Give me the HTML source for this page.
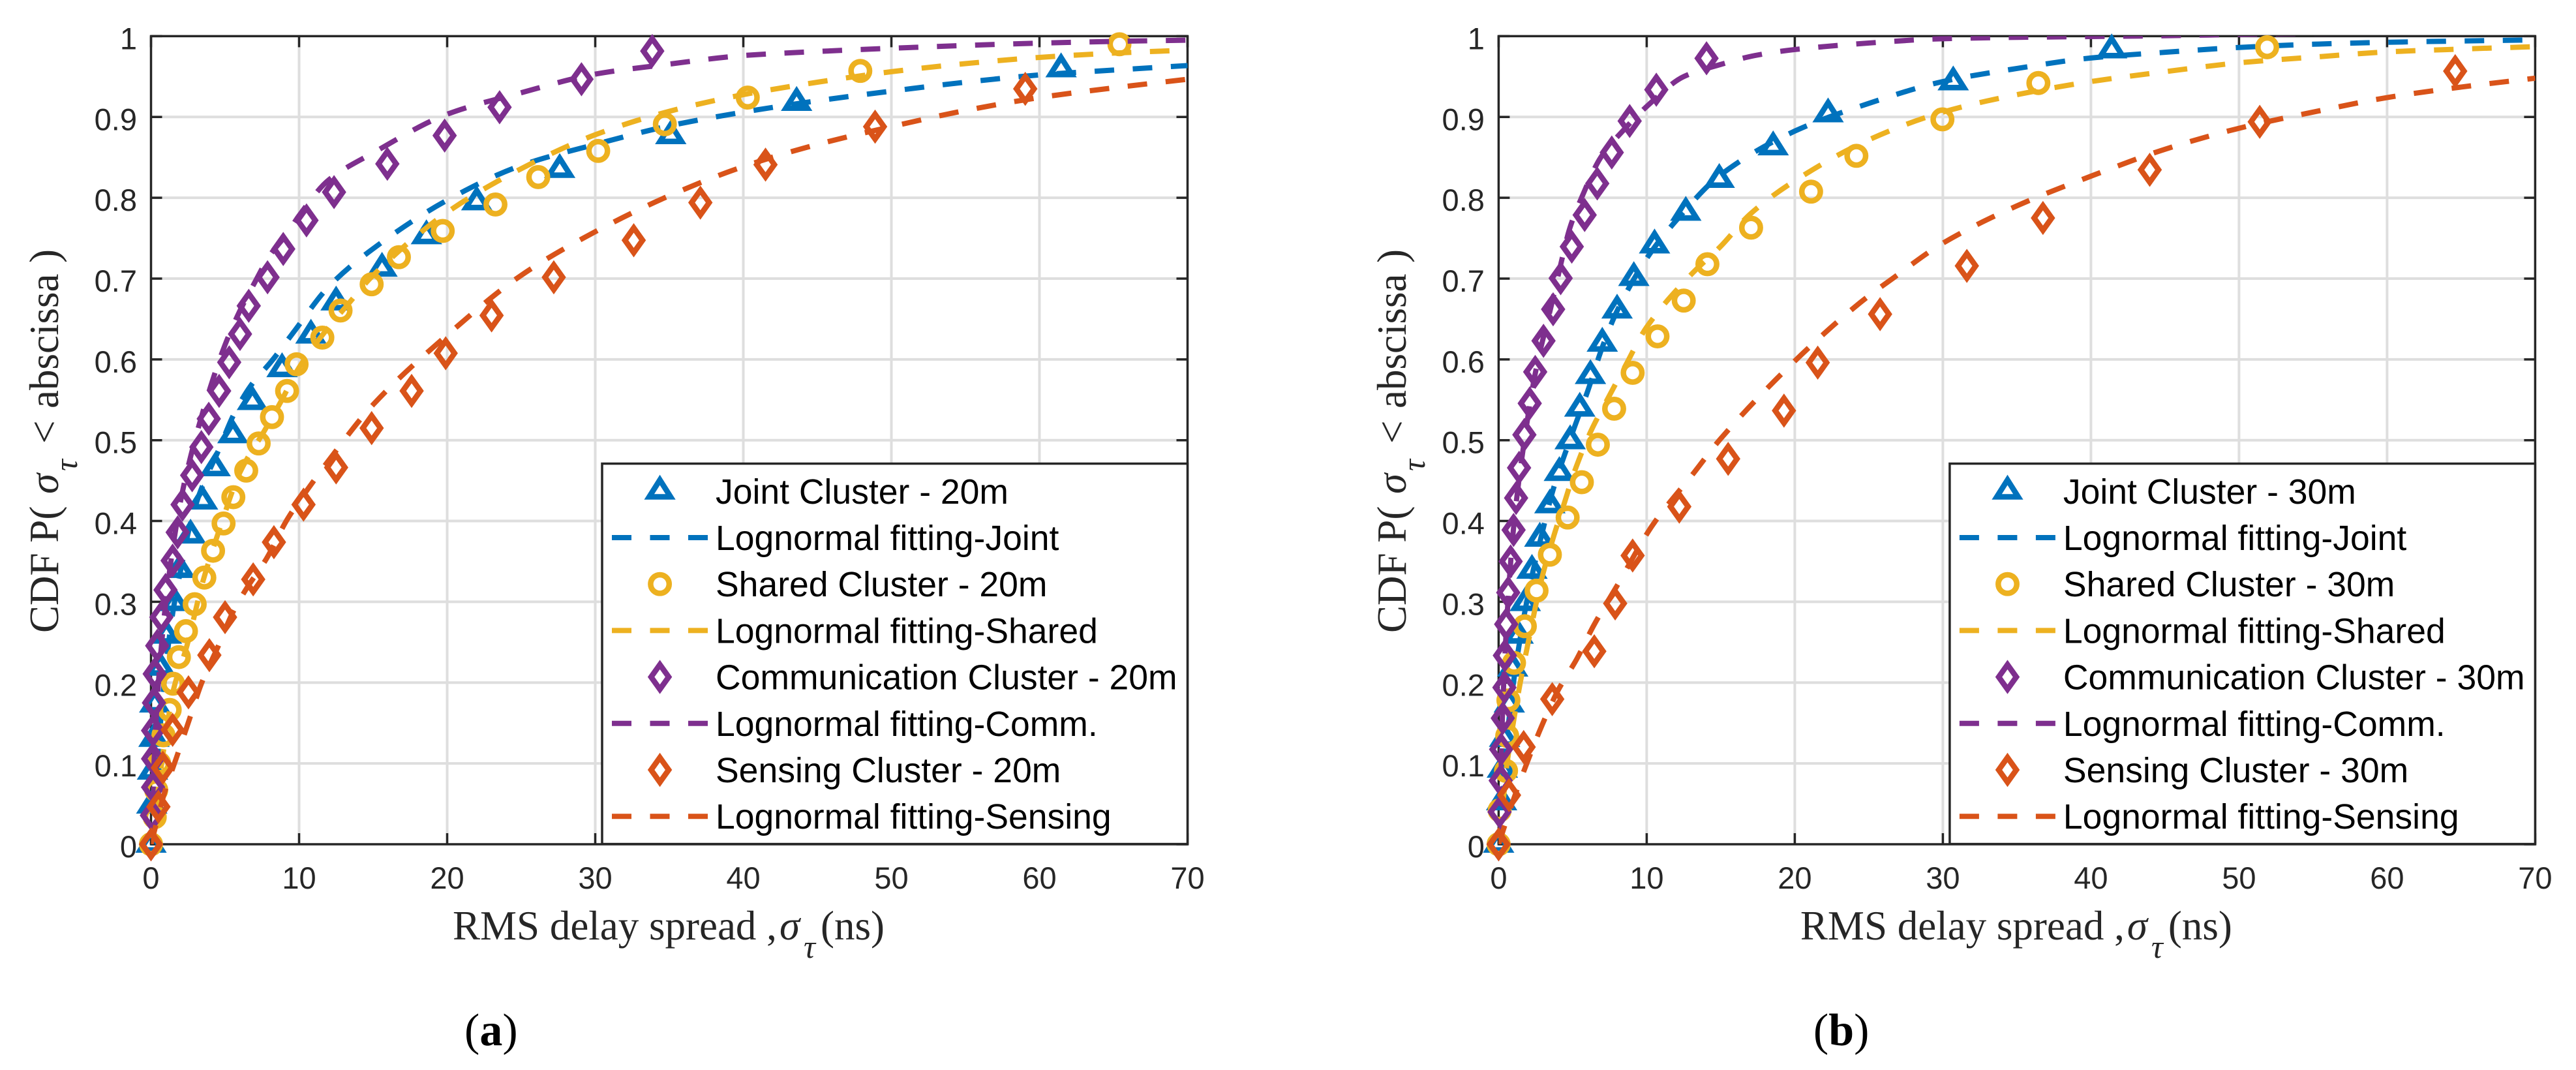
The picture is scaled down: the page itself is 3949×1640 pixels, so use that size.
<!DOCTYPE html>
<html lang="en">
<head>
<meta charset="utf-8">
<title>CDF of RMS delay spread by cluster type</title>
<style>
html,body{margin:0;padding:0;background:#fff;width:3949px;height:1640px;overflow:hidden}
svg{display:block}
.tick{font-family:"Liberation Sans",sans-serif;font-size:47px;fill:#262626}
.leg{font-family:"Liberation Sans",sans-serif;font-size:53.5px;fill:#000}
.lab{font-family:"Liberation Serif",serif;font-size:63px;fill:#262626}
.ital{font-style:italic}
.cap{font-family:"Liberation Serif",serif;font-size:70px;fill:#000}
.mk{fill:none;stroke-width:8.5;stroke-miterlimit:10}
.ln{fill:none;stroke-width:8;stroke-dasharray:30 28.5}
</style>
</head>
<body>
<svg id="figure" xmlns="http://www.w3.org/2000/svg" width="3949" height="1640" viewBox="0 0 3949 1640">
<defs><clipPath id="plot-clip"><rect x="231.5" y="55.4" width="1589" height="1238.6"/></clipPath></defs>

<g id="panel-a">
  <g id="a-axes"></g>
  <g id="a-series"></g>
  <text class="lab" x="694" y="1440">RMS delay spread ,</text>
  <text class="lab ital" x="1195" y="1440">σ</text>
  <text class="lab ital" x="1232" y="1468" style="font-size:50px">τ</text>
  <text class="lab" x="1258" y="1440">(ns)</text>
  <g>
    <text class="lab" transform="translate(89,970) rotate(-90)">CDF P(</text>
    <text class="lab ital" transform="translate(89,757) rotate(-90)">σ</text>
    <text class="lab ital" transform="translate(118,722) rotate(-90)" style="font-size:50px">τ</text>
    <text class="lab" transform="translate(89,680) rotate(-90)">&lt;</text>
    <text class="lab" transform="translate(89,626) rotate(-90)">abscissa</text>
    <text class="lab" transform="translate(89,403) rotate(-90)">)</text>
  </g>
  <text class="cap" x="712" y="1602">(<tspan font-weight="bold">a</tspan>)</text>
  <g>
    <rect x="923" y="710.6" width="897.5" height="583" fill="#fff" stroke="#262626" stroke-width="3.5"/>
    <g>
      <polygon class="mk" stroke="#0072BD" points="1011.6,735.6 1028,761.55 995.2,761.55"/>
      <text class="leg" x="1097" y="772">Joint Cluster - 20m</text>
    </g>
    <g>
      <line class="ln" x1="938" x2="1085" y1="824" y2="824" stroke="#0072BD"/>
      <text class="leg" x="1097" y="843">Lognormal fitting-Joint</text>
    </g>
    <g>
      <circle class="mk" cx="1011.6" cy="895.2" r="14.2" stroke="#EDB120"/>
      <text class="leg" x="1097" y="914">Shared Cluster - 20m</text>
    </g>
    <g>
      <line class="ln" x1="938" x2="1085" y1="966.4" y2="966.4" stroke="#EDB120"/>
      <text class="leg" x="1097" y="985.4">Lognormal fitting-Shared</text>
    </g>
    <g>
      <polygon class="mk" stroke="#7E2F8E" points="1011.6,1018.7 1025.1,1037.6 1011.6,1056.5 998.1,1037.6"/>
      <text class="leg" x="1097" y="1056.6">Communication Cluster - 20m</text>
    </g>
    <g>
      <line class="ln" x1="938" x2="1085" y1="1108.8" y2="1108.8" stroke="#7E2F8E"/>
      <text class="leg" x="1097" y="1127.8">Lognormal fitting-Comm.</text>
    </g>
    <g>
      <polygon class="mk" stroke="#D95319" points="1011.6,1161.1 1025.1,1180 1011.6,1198.9 998.1,1180"/>
      <text class="leg" x="1097" y="1199">Sensing Cluster - 20m</text>
    </g>
    <g>
      <line class="ln" x1="938" x2="1085" y1="1251.2" y2="1251.2" stroke="#D95319"/>
      <text class="leg" x="1097" y="1270.2">Lognormal fitting-Sensing</text>
    </g>
  </g>
</g>

<g id="panel-b" transform="translate(2065.9,0)">
  <g id="b-axes"></g>
  <g id="b-series"></g>
  <text class="lab" x="694" y="1440">RMS delay spread ,</text>
  <text class="lab ital" x="1195" y="1440">σ</text>
  <text class="lab ital" x="1232" y="1468" style="font-size:50px">τ</text>
  <text class="lab" x="1258" y="1440">(ns)</text>
  <g>
    <text class="lab" transform="translate(89,970) rotate(-90)">CDF P(</text>
    <text class="lab ital" transform="translate(89,757) rotate(-90)">σ</text>
    <text class="lab ital" transform="translate(118,722) rotate(-90)" style="font-size:50px">τ</text>
    <text class="lab" transform="translate(89,680) rotate(-90)">&lt;</text>
    <text class="lab" transform="translate(89,626) rotate(-90)">abscissa</text>
    <text class="lab" transform="translate(89,403) rotate(-90)">)</text>
  </g>
  <text class="cap" x="714" y="1602">(<tspan font-weight="bold">b</tspan>)</text>
  <g>
    <rect x="923" y="710.6" width="897.5" height="583" fill="#fff" stroke="#262626" stroke-width="3.5"/>
    <g>
      <polygon class="mk" stroke="#0072BD" points="1011.6,735.6 1028,761.55 995.2,761.55"/>
      <text class="leg" x="1097" y="772">Joint Cluster - 30m</text>
    </g>
    <g>
      <line class="ln" x1="938" x2="1085" y1="824" y2="824" stroke="#0072BD"/>
      <text class="leg" x="1097" y="843">Lognormal fitting-Joint</text>
    </g>
    <g>
      <circle class="mk" cx="1011.6" cy="895.2" r="14.2" stroke="#EDB120"/>
      <text class="leg" x="1097" y="914">Shared Cluster - 30m</text>
    </g>
    <g>
      <line class="ln" x1="938" x2="1085" y1="966.4" y2="966.4" stroke="#EDB120"/>
      <text class="leg" x="1097" y="985.4">Lognormal fitting-Shared</text>
    </g>
    <g>
      <polygon class="mk" stroke="#7E2F8E" points="1011.6,1018.7 1025.1,1037.6 1011.6,1056.5 998.1,1037.6"/>
      <text class="leg" x="1097" y="1056.6">Communication Cluster - 30m</text>
    </g>
    <g>
      <line class="ln" x1="938" x2="1085" y1="1108.8" y2="1108.8" stroke="#7E2F8E"/>
      <text class="leg" x="1097" y="1127.8">Lognormal fitting-Comm.</text>
    </g>
    <g>
      <polygon class="mk" stroke="#D95319" points="1011.6,1161.1 1025.1,1180 1011.6,1198.9 998.1,1180"/>
      <text class="leg" x="1097" y="1199">Sensing Cluster - 30m</text>
    </g>
    <g>
      <line class="ln" x1="938" x2="1085" y1="1251.2" y2="1251.2" stroke="#D95319"/>
      <text class="leg" x="1097" y="1270.2">Lognormal fitting-Sensing</text>
    </g>
  </g>
</g>
</svg>

<script>
// Tick labels
const xTickValues = [0, 10, 20, 30, 40, 50, 60, 70];
const yTickValues = [0, 0.1, 0.2, 0.3, 0.4, 0.5, 0.6, 0.7, 0.8, 0.9, 1];

// Panel (a) 20 m: measured points
const a20JointX = [0,0.05,0.1,0.2,0.25,0.62,1.04,1.6,1.94,2.67,3.48,4.33,5.53,6.85,8.85,10.8,12.5,15.6,18.6,22,27.6,35.1,43.6,61.46];
const a20JointY = [0,0.0484,0.0904,0.131,0.1735,0.219,0.2587,0.299,0.34,0.3826,0.4247,0.4658,0.5067,0.5478,0.5885,0.63,0.671,0.7128,0.753,0.795,0.835,0.8768,0.918,0.9596];
const a20SharedX = [0,0.25,0.35,0.55,0.84,1.26,1.49,1.88,2.36,2.95,3.6,4.19,4.9,5.56,6.43,7.27,8.17,9.19,9.83,11.57,12.8,14.9,16.74,19.7,23.26,26.15,30.2,34.7,40.3,47.9,65.4];
const a20SharedY = [0,0.0335,0.067,0.1,0.1349,0.1663,0.1987,0.2316,0.2637,0.297,0.33,0.3632,0.397,0.4295,0.4624,0.496,0.5286,0.561,0.594,0.627,0.6605,0.693,0.7265,0.759,0.7917,0.8256,0.858,0.891,0.924,0.957,0.99];
const a20CommX = [0,0.06,0.14,0.14,0.14,0.2,0.25,0.42,0.7,0.98,1.46,1.8,2.13,2.78,3.4,3.9,4.6,5.28,6.01,6.6,7.87,8.93,10.5,12.36,15.96,19.83,23.54,29.07,33.85];
const a20CommY = [0,0.0357,0.0705,0.1058,0.1407,0.175,0.2108,0.2456,0.281,0.3147,0.351,0.386,0.4203,0.4566,0.4915,0.5265,0.561,0.5964,0.6314,0.6663,0.7016,0.7366,0.772,0.807,0.842,0.877,0.912,0.9467,0.9816];
const a20SensX = [0,0.5,0.8,1.46,2.53,3.94,5.0,6.9,8.3,10.3,12.5,14.9,17.6,19.9,23.0,27.2,32.6,37.1,41.5,48.9,59.04];
const a20SensY = [0,0.0464,0.0947,0.1416,0.188,0.234,0.281,0.3278,0.3738,0.4203,0.4663,0.515,0.561,0.6076,0.6544,0.7016,0.7474,0.794,0.841,0.888,0.9348];

// Panel (a) 20 m: fitted curves
const a20JointFitX = [0,0.1,0.25,0.5,1,1.5,2.1,2.57,3.3,4.5,5.65,6.8,8.15,9.6,12,15,20,25,30,35,40,45,50,55,60,65,70];
const a20JointFitY = [0,0.02,0.06,0.12,0.22,0.29,0.348,0.39,0.435,0.485,0.534,0.569,0.598,0.633,0.69,0.737,0.797,0.84,0.866,0.889,0.906,0.92,0.932,0.943,0.952,0.958,0.9636];
const a20SharedFitX = [0,0.2,0.5,1,1.5,2.43,3.5,4.63,6,7.7,8.75,10,12,13.2,15,20,25,30,35,40,45,50,55,60,65,70];
const a20SharedFitY = [0,0.02,0.07,0.135,0.19,0.246,0.325,0.39,0.46,0.513,0.547,0.59,0.64,0.666,0.704,0.782,0.836,0.878,0.907,0.9276,0.943,0.956,0.966,0.9737,0.979,0.9827];
const a20CommFitX = [0,0.1,0.25,0.5,1,1.5,2,2.72,4,5,6,7,8,9.2,10,12,15,20,25,30,35,40,45,50,55,60,65,70];
const a20CommFitY = [0,0.05,0.12,0.2,0.3,0.37,0.425,0.483,0.565,0.618,0.66,0.695,0.728,0.756,0.778,0.822,0.8555,0.9034,0.93,0.953,0.9654,0.976,0.981,0.985,0.9885,0.9914,0.9935,0.995];
const a20SensFitX = [0,0.9,1.8,2.6,3.4,4.55,5.5,6.4,7.8,9.2,11,12,15,20,25,30,35,40,45,50,55,60,65,70];
const a20SensFitY = [0,0.063,0.1116,0.155,0.1987,0.2455,0.286,0.315,0.3535,0.402,0.45,0.475,0.544,0.63,0.704,0.758,0.8025,0.8386,0.866,0.888,0.908,0.924,0.936,0.9467];

// Panel (b) 30 m: measured points
const b30JointX = [0,0.2,0.25,0.4,0.72,0.95,1.32,1.8,2.25,2.78,3.46,4.1,4.83,5.48,6.2,7,8,9.13,10.53,12.64,14.9,18.54,22.25,30.7,41.4];
const b30JointY = [0,0.0525,0.0928,0.131,0.1735,0.218,0.2587,0.299,0.339,0.3787,0.42,0.46,0.4993,0.5396,0.58,0.62,0.661,0.7013,0.7416,0.782,0.8227,0.863,0.9038,0.9434,0.983];
const b30SharedX = [0,0.07,0.5,0.58,0.66,1.04,1.77,2.56,3.46,4.66,5.62,6.7,7.8,9.05,10.73,12.5,14.1,17.05,21.1,24.16,29.97,36.45,51.9];
const b30SharedY = [0,0.042,0.0908,0.134,0.178,0.2244,0.2698,0.3138,0.3583,0.4043,0.448,0.4944,0.539,0.5834,0.6285,0.6728,0.7178,0.763,0.8076,0.8519,0.897,0.942,0.9863];
const b30CommX = [0,0.06,0.14,0.17,0.28,0.39,0.42,0.51,0.65,0.81,1.01,1.18,1.38,1.74,2.1,2.47,3.03,3.68,4.19,4.94,5.81,6.66,7.64,8.85,10.65,14.04];
const b30CommY = [0,0.04,0.0788,0.1175,0.156,0.194,0.2336,0.2723,0.3114,0.35,0.3889,0.4285,0.4658,0.5067,0.5456,0.5845,0.623,0.662,0.7005,0.7395,0.7787,0.8177,0.856,0.895,0.9337,0.9726];
const b30SensX = [0,0.7,1.69,3.62,6.46,7.87,9.05,12.2,15.5,19.27,21.55,25.76,31.62,36.76,43.97,51.4,64.6];
const b30SensY = [0,0.0608,0.1203,0.1796,0.2388,0.298,0.3573,0.4178,0.4769,0.5366,0.596,0.656,0.7157,0.775,0.8346,0.894,0.9567];

// Panel (b) 30 m: fitted curves
const b30JointFitX = [0,0.2,0.5,1,2,3,3.7,5,6,7,8,10,12,15,20,25,30,35,40,45,50,55,60,65,70];
const b30JointFitY = [0,0.06,0.12,0.2,0.31,0.39,0.44,0.51,0.56,0.615,0.66,0.725,0.772,0.8285,0.8825,0.9168,0.9438,0.96,0.973,0.98,0.986,0.99,0.9924,0.994,0.9953];
const b30SharedFitX = [0,0.2,0.5,0.9,1.46,2,2.86,3.7,4.4,5.1,6.2,7.36,8.5,10,13,15,17,20,25,30,35,40,45,50,55,60,65,70];
const b30SharedFitY = [0,0.03,0.09,0.14,0.2,0.25,0.325,0.38,0.42,0.46,0.51,0.551,0.59,0.64,0.705,0.74,0.78,0.821,0.8717,0.906,0.9276,0.9438,0.956,0.967,0.974,0.9805,0.984,0.987];
const b30CommFitX = [0,0.2,0.5,1,1.74,2.5,3.6,4.1,4.8,5.6,6.9,8.5,10.3,12.5,15,17.3,20,25,30,35,40,45,50,60,70];
const b30CommFitY = [0,0.13,0.26,0.39,0.5,0.585,0.67,0.71,0.762,0.8,0.85,0.885,0.918,0.95,0.965,0.976,0.9834,0.9915,0.9968,0.9985,0.9995,1.0005,1.002,1.004,1.005];
const b30SensFitX = [0,0.9,1.9,2.9,4,5.3,6.4,8,10.4,13.2,15,20,24.4,26.6,30,35,40,45,50,55,60,65,70];
const b30SensFitY = [0,0.05,0.1,0.146,0.19,0.23,0.27,0.32,0.395,0.46,0.502,0.598,0.67,0.7,0.7438,0.79,0.8267,0.86,0.886,0.906,0.924,0.937,0.948];

const SVGNS = 'http://www.w3.org/2000/svg';
const plot = { left: 231.5, right: 1820.5, top: 55.4, bottom: 1294 };
const xMax = 70;
function sx(v) { return plot.left + (v / xMax) * (plot.right - plot.left); }
function sy(v) { return plot.bottom - v * (plot.bottom - plot.top); }

function svgEl(tag, parent) {
  const el = document.createElementNS(SVGNS, tag);
  parent.appendChild(el);
  return el;
}

function drawAxes(parent) {
  const gridColor = '#dedede', axisColor = '#262626', tickLen = 17;
  xTickValues.forEach(function (t) {
    if (t === 0 || t === xMax) return;
    const el = svgEl('line', parent);
    
    
    el.setAttribute('x1', sx(t)); el.setAttribute('x2', sx(t));
    el.setAttribute('y1', plot.top); el.setAttribute('y2', plot.bottom);
    el.setAttribute('stroke', gridColor); el.setAttribute('stroke-width', 4);
  });
  yTickValues.forEach(function (t) {
    if (t === 0 || t === 1) return;
    const el = svgEl('line', parent);
    
    
    el.setAttribute('x1', plot.left); el.setAttribute('x2', plot.right);
    el.setAttribute('y1', sy(t)); el.setAttribute('y2', sy(t));
    el.setAttribute('stroke', gridColor); el.setAttribute('stroke-width', 4);
  });
  const frame = svgEl('rect', parent);
  
  
  frame.setAttribute('x', plot.left); frame.setAttribute('y', plot.top);
  frame.setAttribute('width', plot.right - plot.left); frame.setAttribute('height', plot.bottom - plot.top);
  frame.setAttribute('fill', 'none'); frame.setAttribute('stroke', axisColor); frame.setAttribute('stroke-width', 3.5);
  xTickValues.forEach(function (t) {
    [[plot.bottom, plot.bottom - tickLen], [plot.top, plot.top + tickLen]].forEach(function (p) {
      const tk = svgEl('line', parent);
      
      
      tk.setAttribute('x1', sx(t)); tk.setAttribute('x2', sx(t));
      tk.setAttribute('y1', p[0]); tk.setAttribute('y2', p[1]);
      tk.setAttribute('stroke', axisColor); tk.setAttribute('stroke-width', 3.5);
    });
    const lb = svgEl('text', parent);
    
    
    lb.setAttribute('class', 'tick');
    lb.setAttribute('x', sx(t)); lb.setAttribute('y', 1362);
    lb.setAttribute('text-anchor', 'middle');
    lb.textContent = String(t);
  });
  yTickValues.forEach(function (t) {
    [[plot.left, plot.left + tickLen], [plot.right, plot.right - tickLen]].forEach(function (p) {
      const tk = svgEl('line', parent);
      
      
      tk.setAttribute('x1', p[0]); tk.setAttribute('x2', p[1]);
      tk.setAttribute('y1', sy(t)); tk.setAttribute('y2', sy(t));
      tk.setAttribute('stroke', axisColor); tk.setAttribute('stroke-width', 3.5);
    });
    const lb = svgEl('text', parent);
    
    
    lb.setAttribute('class', 'tick');
    lb.setAttribute('x', 210); lb.setAttribute('y', sy(t) + 20);
    lb.setAttribute('text-anchor', 'end');
    lb.textContent = String(t);
  });
}

function drawMarker(parent, shape, color, name, xv, yv) {
  const cx = sx(xv), cy = sy(yv);
  let el;
  if (shape === 'circle') {
    el = svgEl('circle', parent);
    el.setAttribute('cx', cx); el.setAttribute('cy', cy); el.setAttribute('r', 14.2);
  } else {
    el = svgEl('polygon', parent);
    const pts = shape === 'triangle'
      ? [[0, -17.2], [16.4, 8.75], [-16.4, 8.75]]
      : [[0, -18.9], [13.5, 0], [0, 18.9], [-13.5, 0]];
    el.setAttribute('points', pts.map(function (p) { return (cx + p[0]) + ',' + (cy + p[1]); }).join(' '));
  }
  
  
  el.setAttribute('class', 'mk');
  el.setAttribute('stroke', color);
}

// Monotone cubic path through the fitted samples
function curvePath(xs, ys) {
  const px = xs.map(sx), py = ys.map(sy), n = px.length;
  const dl = [], m = [];
  for (let i = 0; i < n - 1; i++) dl.push((py[i + 1] - py[i]) / (px[i + 1] - px[i]));
  m.push(dl[0]);
  for (let i = 1; i < n - 1; i++) {
    m.push(dl[i - 1] * dl[i] <= 0 ? 0 : 2 * dl[i - 1] * dl[i] / (dl[i - 1] + dl[i]));
  }
  m.push(dl[n - 2]);
  let d = 'M' + px[0] + ' ' + py[0];
  for (let i = 0; i < n - 1; i++) {
    const h = (px[i + 1] - px[i]) / 3;
    d += 'C' + (px[i] + h) + ' ' + (py[i] + m[i] * h) + ' ' + (px[i + 1] - h) + ' ' + (py[i + 1] - m[i + 1] * h) + ' ' + px[i + 1] + ' ' + py[i + 1];
  }
  return d;
}

function drawSeries(parent, s) {
  const g = svgEl('g', parent);
  
  
  s.x.forEach(function (xv, i) {
    drawMarker(g, s.shape, s.color, s.name + '-marker', xv, s.y[i]);
  });
  const path = svgEl('path', g);
  
  
  path.setAttribute('class', 'ln');
  path.setAttribute('clip-path', 'url(#plot-clip)');
  path.setAttribute('stroke', s.color);
  path.setAttribute('d', curvePath(s.fx, s.fy));
}

const blue = '#0072BD', yellow = '#EDB120', purple = '#7E2F8E', red = '#D95319';

drawAxes(document.getElementById('a-axes'));
drawAxes(document.getElementById('b-axes'));

[
  { name: 'joint', shape: 'triangle', color: blue, x: a20JointX, y: a20JointY, fx: a20JointFitX, fy: a20JointFitY },
  { name: 'shared', shape: 'circle', color: yellow, x: a20SharedX, y: a20SharedY, fx: a20SharedFitX, fy: a20SharedFitY },
  { name: 'communication', shape: 'diamond', color: purple, x: a20CommX, y: a20CommY, fx: a20CommFitX, fy: a20CommFitY },
  { name: 'sensing', shape: 'diamond', color: red, x: a20SensX, y: a20SensY, fx: a20SensFitX, fy: a20SensFitY }
].forEach(function (s) { drawSeries(document.getElementById('a-series'), s); });

[
  { name: 'joint', shape: 'triangle', color: blue, x: b30JointX, y: b30JointY, fx: b30JointFitX, fy: b30JointFitY },
  { name: 'shared', shape: 'circle', color: yellow, x: b30SharedX, y: b30SharedY, fx: b30SharedFitX, fy: b30SharedFitY },
  { name: 'communication', shape: 'diamond', color: purple, x: b30CommX, y: b30CommY, fx: b30CommFitX, fy: b30CommFitY },
  { name: 'sensing', shape: 'diamond', color: red, x: b30SensX, y: b30SensY, fx: b30SensFitX, fy: b30SensFitY }
].forEach(function (s) { drawSeries(document.getElementById('b-series'), s); });
</script>
</body>
</html>
